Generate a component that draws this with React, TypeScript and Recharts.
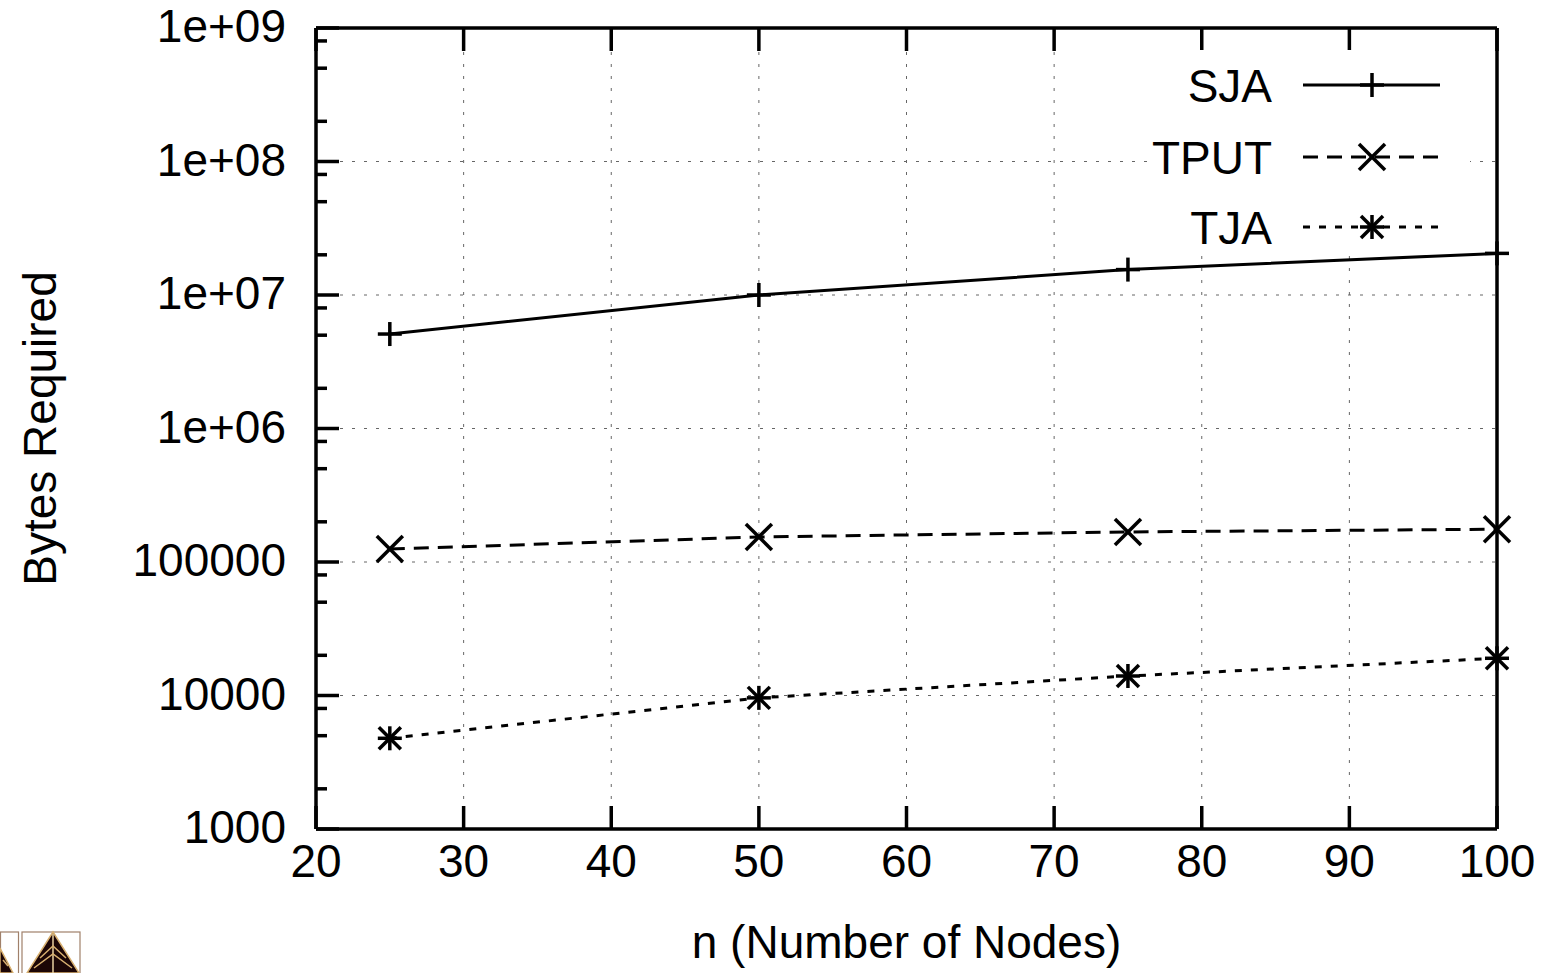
import React from 'react';
import { LineChart, Line, XAxis, YAxis, CartesianGrid, Legend } from 'recharts';

// ---- data ----
const nodes = [25, 50, 75, 100];
const sjaBytes = [5.1e6, 1.0e7, 1.55e7, 2.05e7];
const tputBytes = [1.25e5, 1.54e5, 1.68e5, 1.76e5];
const tjaBytes = [4780, 9600, 14000, 19000];

const xTicks = [20, 30, 40, 50, 60, 70, 80, 90, 100];
const yTicks = [1e3, 1e4, 1e5, 1e6, 1e7, 1e8, 1e9];
const yTickLabels = ['1000', '10000', '100000', '1e+06', '1e+07', '1e+08', '1e+09'];
const yMinorTicks = [
  2e3, 5e3, 8e3, 2e4, 5e4, 8e4, 2e5, 5e5, 8e5,
  2e6, 5e6, 8e6, 2e7, 5e7, 8e7, 2e8, 5e8, 8e8,
];

const seriesNames = ['SJA', 'TPUT', 'TJA'];
const seriesMarkers = ['plus', 'cross', 'star'];
const seriesDashes = [undefined, '15 9', '7 9'];

const data = nodes.map((n, i) => ({
  n,
  SJA: sjaBytes[i],
  TPUT: tputBytes[i],
  TJA: tjaBytes[i],
}));

const allYTicks = [...yTicks, ...yMinorTicks].sort((a, b) => a - b);

const FONT = '"Liberation Sans", Arial, Helvetica, sans-serif';
const FS = 46;
const MAJOR = 23;
const MINOR = 11;
const TICK_W = 3.5;

function MarkerShape({ type, cx, cy }: { type: string; cx: number; cy: number }) {
  const s = 12;
  const d = 11;
  const sw = 3.5;
  const plus = (
    <>
      <line x1={cx - s} y1={cy} x2={cx + s} y2={cy} stroke="#000" strokeWidth={sw} />
      <line x1={cx} y1={cy - s} x2={cx} y2={cy + s} stroke="#000" strokeWidth={sw} />
    </>
  );
  const cross = (k: number) => (
    <>
      <line x1={cx - k} y1={cy - k} x2={cx + k} y2={cy + k} stroke="#000" strokeWidth={sw} />
      <line x1={cx - k} y1={cy + k} x2={cx + k} y2={cy - k} stroke="#000" strokeWidth={sw} />
    </>
  );
  if (type === 'plus') return <g>{plus}</g>;
  if (type === 'cross') return <g>{cross(13)}</g>;
  return (
    <g>
      {plus}
      {cross(d)}
    </g>
  );
}

const makeDot = (type: string, key: string) => (props: any) => {
  const { cx, cy, index } = props;
  if (cx == null || cy == null) return <g key={`${key}-${index}`} />;
  return (
    <g key={`${key}-${index}`}>
      <MarkerShape type={type} cx={cx} cy={cy} />
    </g>
  );
};

const BottomTick = (props: any) => {
  const { x, y, payload } = props;
  return (
    <g>
      <line x1={x} y1={y} x2={x} y2={y - MAJOR} stroke="#000" strokeWidth={TICK_W} />
      <text x={x} y={y + 48} textAnchor="middle" fontSize={FS} fontFamily={FONT} fill="#000">
        {payload.value}
      </text>
    </g>
  );
};

const TopTick = (props: any) => {
  const { x, y } = props;
  return <line x1={x} y1={y} x2={x} y2={y + MAJOR} stroke="#000" strokeWidth={TICK_W} />;
};

const LeftTick = (props: any) => {
  const { x, y, payload } = props;
  const idx = yTicks.indexOf(payload.value);
  if (idx < 0) {
    return <line x1={x} y1={y} x2={x + MINOR} y2={y} stroke="#000" strokeWidth={TICK_W} />;
  }
  return (
    <g>
      <line x1={x} y1={y} x2={x + MAJOR} y2={y} stroke="#000" strokeWidth={TICK_W} />
      <text x={x - 30} y={y + 14} textAnchor="end" fontSize={FS} fontFamily={FONT} fill="#000">
        {yTickLabels[idx]}
      </text>
    </g>
  );
};

const RightTick = (props: any) => {
  const { x, y, payload } = props;
  const len = yTicks.indexOf(payload.value) < 0 ? MINOR : MAJOR;
  return <line x1={x} y1={y} x2={x - len} y2={y} stroke="#000" strokeWidth={TICK_W} />;
};

const XTitle = (props: any) => {
  const vb = props.viewBox || {};
  return (
    <text
      x={vb.x + vb.width / 2}
      y={vb.y + vb.height - 15}
      textAnchor="middle"
      fontSize={FS}
      fontFamily={FONT}
      fill="#000"
    >
      n (Number of Nodes)
    </text>
  );
};

const YTitle = (props: any) => {
  const vb = props.viewBox || {};
  const cx = 56;
  const cy = vb.y + vb.height / 2;
  return (
    <text
      x={cx}
      y={cy}
      transform={`rotate(-90, ${cx}, ${cy})`}
      textAnchor="middle"
      fontSize={FS}
      fontFamily={FONT}
      fill="#000"
    >
      Bytes Required
    </text>
  );
};

const KEY_W = 320;
const KEY_H = 198;

const KeyBox = (props: any) => {
  const payload = [...(props.payload || [])].sort(
    (a: any, b: any) => seriesNames.indexOf(a.value) - seriesNames.indexOf(b.value)
  );
  const rows = [35, 107, 177];
  return (
    <svg width={KEY_W} height={KEY_H} style={{ display: 'block', overflow: 'visible' }}>
      <rect x={0} y={0} width={KEY_W} height={KEY_H} fill="#fff" />
      {payload.map((entry: any) => {
        const name = entry.value;
        const si = seriesNames.indexOf(name);
        const y = rows[si];
        return (
          <g key={name}>
            <text x={122} y={y + 17} textAnchor="end" fontSize={FS} fontFamily={FONT} fill="#000">
              {name}
            </text>
            <line
              x1={153}
              y1={y}
              x2={290}
              y2={y}
              stroke="#000"
              strokeWidth={3}
              strokeDasharray={seriesDashes[si]}
            />
            <MarkerShape type={seriesMarkers[si]} cx={222} cy={y} />
          </g>
        );
      })}
    </svg>
  );
};

const Logo = () => (
  <svg width={82} height={43} style={{ position: 'absolute', left: 0, top: 930 }}>
    <rect x={0.5} y={2} width={18} height={42} fill="#fff" stroke="#a0806a" strokeWidth={1.2} />
    <rect x={22} y={2} width={58} height={42} fill="#fff" stroke="#a0806a" strokeWidth={1.2} />
    <polygon points="0,18 0,43 13,43" fill="#1c0606" stroke="#d8b070" strokeWidth={1.5} />
    <polygon points="53,2 27,43 79,43" fill="#1c0606" stroke="#d8b070" strokeWidth={1.5} />
    <line x1={53} y1={4} x2={53} y2={43} stroke="#e8d0a0" strokeWidth={1.5} />
    <polyline points="40,28 53,16 66,28" fill="none" stroke="#d8b070" strokeWidth={1.5} />
    <polyline points="34,38 53,24 72,38" fill="none" stroke="#d8b070" strokeWidth={1.5} />
    <polyline points="3,30 8,36" fill="none" stroke="#d8b070" strokeWidth={1.5} />
  </svg>
);

export default function App() {
  return (
    <div style={{ position: 'absolute', left: 0, top: 0, width: 1550, height: 973, background: '#fff' }}>
      <LineChart
        width={1550}
        height={973}
        data={data}
        margin={{ top: 27, right: 52, bottom: 0, left: 0 }}
      >
        <CartesianGrid
          xAxisId={0}
          yAxisId={0}
          horizontalValues={yTicks}
          verticalValues={xTicks}
          stroke="#666"
          strokeWidth={1}
          strokeDasharray="3 9"
        />
        <XAxis
          xAxisId={0}
          dataKey="n"
          type="number"
          domain={[20, 100]}
          ticks={xTicks}
          interval={0}
          orientation="bottom"
          height={144}
          tickSize={0}
          tickMargin={0}
          axisLine={{ stroke: '#000', strokeWidth: 3.5 }}
          tickLine={false}
          tick={<BottomTick />}
          label={<XTitle />}
        />
        <XAxis
          xAxisId="top"
          dataKey="n"
          type="number"
          domain={[20, 100]}
          ticks={xTicks}
          interval={0}
          orientation="top"
          height={1}
          tickSize={0}
          tickMargin={0}
          axisLine={{ stroke: '#000', strokeWidth: 3.5 }}
          tickLine={false}
          tick={<TopTick />}
        />
        <YAxis
          yAxisId={0}
          type="number"
          scale="log"
          domain={[1000, 1e9]}
          ticks={allYTicks}
          interval={0}
          orientation="left"
          width={316}
          tickSize={0}
          tickMargin={0}
          axisLine={{ stroke: '#000', strokeWidth: 3.5 }}
          tickLine={false}
          tick={<LeftTick />}
          label={<YTitle />}
        />
        <YAxis
          yAxisId="right"
          type="number"
          scale="log"
          domain={[1000, 1e9]}
          ticks={allYTicks}
          interval={0}
          orientation="right"
          width={1}
          tickSize={0}
          tickMargin={0}
          axisLine={{ stroke: '#000', strokeWidth: 3.5 }}
          tickLine={false}
          tick={<RightTick />}
        />
        <Legend
          layout="horizontal"
          verticalAlign="middle"
          align="center"
          content={<KeyBox />}
          wrapperStyle={{ left: 1150, top: 50, width: KEY_W, height: KEY_H }}
        />
        {seriesNames.map((name, i) => (
          <Line
            key={name}
            xAxisId={0}
            yAxisId={0}
            dataKey={name}
            name={name}
            type="linear"
            stroke="#000"
            strokeWidth={3}
            strokeDasharray={seriesDashes[i]}
            dot={makeDot(seriesMarkers[i], name)}
            activeDot={false}
            isAnimationActive={false}
          />
        ))}
      </LineChart>
      <Logo />
    </div>
  );
}
